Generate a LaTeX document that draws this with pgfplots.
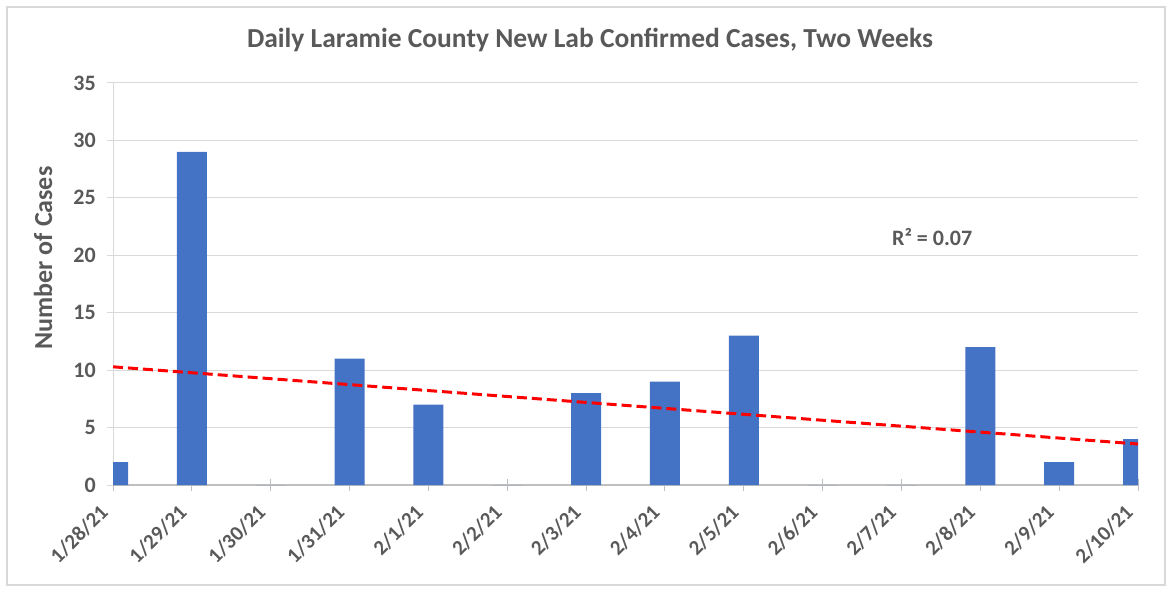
\documentclass[border=0pt]{standalone}
\usepackage{pgfplots}
\pgfplotsset{compat=1.18}
\usepackage{fontspec}
\setmainfont{Carlito}
\definecolor{barblue}{HTML}{4472C4}
\definecolor{txtgray}{HTML}{595959}
\definecolor{gridgray}{HTML}{D9D9D9}
\definecolor{axgray}{HTML}{BFBFBF}
\begin{document}
\begin{tikzpicture}
\path[use as bounding box] (0pt,0pt) rectangle (1172pt,589pt);
\draw[gridgray, line width=1.5pt] (7pt,4pt) rectangle (1165pt,582pt);
\begin{axis}[
  at={(113pt,104pt)}, anchor=origin,
  scale only axis, width=1025pt, height=402pt,
  xmin=0, xmax=13, ymin=0, ymax=35,
  ytick={0,5,...,35},
  xtick={0,...,13},
  xticklabels={1/28/21,1/29/21,1/30/21,1/31/21,2/1/21,2/2/21,2/3/21,2/4/21,2/5/21,2/6/21,2/7/21,2/8/21,2/9/21,2/10/21},
  ymajorgrids, grid style={gridgray, line width=1pt},
  axis lines=left,
  x axis line style={-, axgray, line width=1.2pt},
  y axis line style={-, gridgray, line width=1pt},
  x tick style={axgray, line width=1pt},
  y tick style={gridgray, line width=1pt},
  tick align=center, major tick length=12pt,
  tick label style={text=txtgray},
  yticklabel style={font=\bfseries\fontsize{22}{26}\selectfont, inner sep=1pt, xshift=-10pt},
  /pgf/number format/assume math mode=true,
  xticklabel style={font=\bfseries\fontsize{21}{25}\selectfont, xshift=-8pt, yshift=-17pt, rotate=45, anchor=east, inner sep=1pt},
]
\addplot[ybar, bar width=30pt, fill=barblue, draw=none] coordinates {
(0,2) (1,29) (2,0) (3,11) (4,7) (5,0) (6,8) (7,9) (8,13) (9,0) (10,0) (11,12) (12,2) (13,4)};
\addplot[red, line width=3pt, dash pattern=on 10pt off 5pt] coordinates {(0,10.29) (13,3.57)};
\node[font=\bfseries\fontsize{22}{26}\selectfont, text=txtgray] at (axis cs:10.39,21.6) {R² = 0.07};
\end{axis}
\node[font=\bfseries\fontsize{27.5}{32}\selectfont, text=txtgray] at (590pt,549pt) {Daily Laramie County New Lab Confirmed Cases, Two Weeks};
\node[rotate=90, font=\bfseries\fontsize{26}{30}\selectfont, text=txtgray] at (43pt,331pt) {Number of Cases};
\end{tikzpicture}
\end{document}
